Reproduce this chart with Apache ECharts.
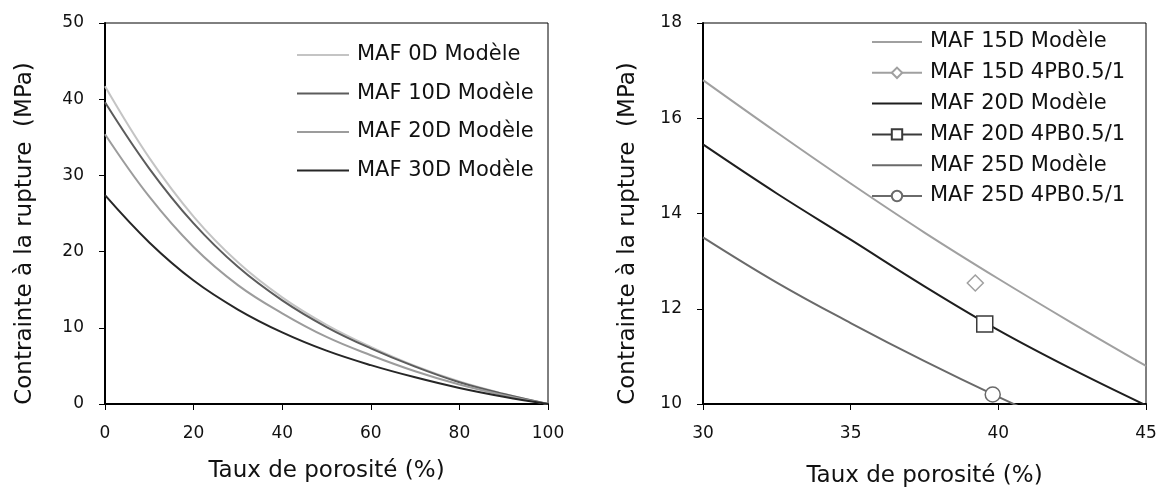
<!DOCTYPE html>
<html>
<head>
<meta charset="utf-8">
<script src="https://cdn.jsdelivr.net/npm/echarts@6/dist/echarts.min.js"></script>
<style>
html,body{margin:0;padding:0;background:#fff;}
#c{width:1162px;height:493px;}
</style>
</head>
<body>
<div id="c"></div>
<script>
// ---- Left chart data ----
const leftX = [0, 10, 20, 30, 40, 50, 60, 70, 80, 90, 100];
const maf0D  = [41.7, 32.3, 24.6, 18.6, 14.0, 10.4, 7.5, 5.0, 2.95, 1.35, 0];
const maf10D = [39.6, 30.9, 23.7, 18.0, 13.6, 10.1, 7.3, 4.9, 2.85, 1.3, 0];
const maf20D = [35.4, 27.2, 20.6, 15.6, 11.9, 8.8, 6.4, 4.3, 2.55, 1.15, 0];
const maf30D = [27.4, 21.2, 16.2, 12.4, 9.4, 7.0, 5.1, 3.5, 2.1, 0.95, 0];
const leftNames = ['MAF 0D Modèle', 'MAF 10D Modèle', 'MAF 20D Modèle', 'MAF 30D Modèle'];

// ---- Right chart data ----
const rightX  = [30, 32.5, 35, 37.5, 40, 42.5, 45];
const maf15DM = [16.8, 15.7, 14.63, 13.6, 12.63, 11.7, 10.8];
const maf20DM = [15.45, 14.42, 13.45, 12.47, 11.55, 10.73, 9.97];
const maf25DM = [13.5, 12.55, 11.7, 10.9, 10.15, 9.45, 8.8];
const pt15D = [39.22, 12.54];
const pt20D = [39.54, 11.68];
const pt25D = [39.81, 10.2];
const rightNames = ['MAF 15D Modèle', 'MAF 15D 4PB0.5/1', 'MAF 20D Modèle', 'MAF 20D 4PB0.5/1', 'MAF 25D Modèle', 'MAF 25D 4PB0.5/1'];
const rightHasMarker = [false, true, false, true, false, true];

// tick settings
const leftXTicks = {min: 0, max: 100, interval: 20};
const leftYTicks = {min: 0, max: 50, interval: 10};
const rightXTicks = {min: 30, max: 45, interval: 5};
const rightYTicks = {min: 10, max: 18, interval: 2};

const FONT = '"DejaVu Sans", Verdana, sans-serif';
const zip = (xs, ys) => xs.map((x, i) => [x, ys[i]]);
// right-panel series get an invisible suffix so that names shared with the left panel stay distinct
const RID = '\u200B';
const rName = i => rightNames[i] + RID;

function xAxis(idx, t, gap, lblMargin) {
  return {
    type: 'value', gridIndex: idx, min: t.min, max: t.max, interval: t.interval,
    name: 'Taux de porosité (%)', nameLocation: 'middle', nameGap: gap,
    nameTextStyle: {fontFamily: FONT, fontSize: 23, color: '#111'},
    axisLine: {show: true, onZero: false, lineStyle: {color: '#000', width: 2}},
    axisTick: {show: true, inside: false, length: 6, lineStyle: {color: '#000', width: 1}},
    axisLabel: {fontFamily: FONT, fontSize: 17, color: '#111', margin: lblMargin},
    splitLine: {show: false}
  };
}
function yAxis(idx, t, gap) {
  return {
    type: 'value', gridIndex: idx, min: t.min, max: t.max, interval: t.interval,
    name: 'Contrainte à la rupture  (MPa)', nameLocation: 'middle', nameGap: gap,
    nameTextStyle: {fontFamily: FONT, fontSize: 23, color: '#111', padding: [0, 40, 0, 0]},
    axisLine: {show: true, onZero: false, lineStyle: {color: '#000', width: 2}},
    axisTick: {show: true, inside: false, length: 6, lineStyle: {color: '#000', width: 1}},
    axisLabel: {fontFamily: FONT, fontSize: 17, color: '#111', margin: 21},
    splitLine: {show: false}
  };
}
function curve(name, xi, xs, ys, color) {
  return {
    name, type: 'line', xAxisIndex: xi, yAxisIndex: xi, data: zip(xs, ys),
    smooth: 0.4, showSymbol: false, symbol: 'none', clip: true,
    lineStyle: {color, width: 2}, itemStyle: {color}
  };
}
function point(name, p, symbol, color, size) {
  return {
    name, type: 'line', xAxisIndex: 1, yAxisIndex: 1, data: [p],
    symbol, symbolSize: size, showSymbol: true,
    lineStyle: {color, width: 2},
    itemStyle: {color: '#fff', borderColor: color, borderWidth: 1.5}
  };
}
const legendItem = (name, marker) => marker ? {name} : {name, itemStyle: {opacity: 0}};
const legendText = {fontFamily: FONT, fontSize: 21, color: '#111', lineHeight: 22, padding: [0, 0, 0, 3]};

const chart = echarts.init(document.getElementById('c'), null, {renderer: 'canvas'});
chart.setOption({
  animation: false,
  backgroundColor: '#fff',
  grid: [
    {left: 105, right: 1162 - 548, top: 23, bottom: 493 - 404, show: true, borderColor: '#000', borderWidth: 1},
    {left: 703, right: 1162 - 1146, top: 23, bottom: 493 - 406, show: true, borderColor: '#000', borderWidth: 1}
  ],
  xAxis: [xAxis(0, leftXTicks, 56, 21), xAxis(1, rightXTicks, 61, 21)],
  yAxis: [yAxis(0, leftYTicks, 68), yAxis(1, rightYTicks, 63)],
  legend: [
    {
      data: leftNames.map(n => legendItem(n, false)), orient: 'vertical', left: 291, top: 39,
      itemWidth: 52, itemHeight: 14, itemGap: 16.5,
      textStyle: legendText, selectedMode: false
    },
    {
      data: rightNames.map((n, i) => legendItem(rName(i), rightHasMarker[i])), orient: 'vertical', left: 866, top: 26,
      itemWidth: 50, itemHeight: 13, itemGap: 8.8,
      textStyle: legendText, selectedMode: false,
      formatter: n => n.replace(RID, '')
    }
  ],
  series: [
    curve(leftNames[0], 0, leftX, maf0D, '#c4c4c4'),
    curve(leftNames[1], 0, leftX, maf10D, '#5c5c5c'),
    curve(leftNames[2], 0, leftX, maf20D, '#9c9c9c'),
    curve(leftNames[3], 0, leftX, maf30D, '#262626'),
    curve(rName(0), 1, rightX, maf15DM, '#a0a0a0'),
    point(rName(1), pt15D, 'diamond', '#a0a0a0', 16),
    curve(rName(2), 1, rightX, maf20DM, '#1e1e1e'),
    point(rName(3), pt20D, 'rect', '#3a3a3a', 16),
    curve(rName(4), 1, rightX, maf25DM, '#6a6a6a'),
    point(rName(5), pt25D, 'circle', '#6a6a6a', 15)
  ]
});
</script>
</body>
</html>
